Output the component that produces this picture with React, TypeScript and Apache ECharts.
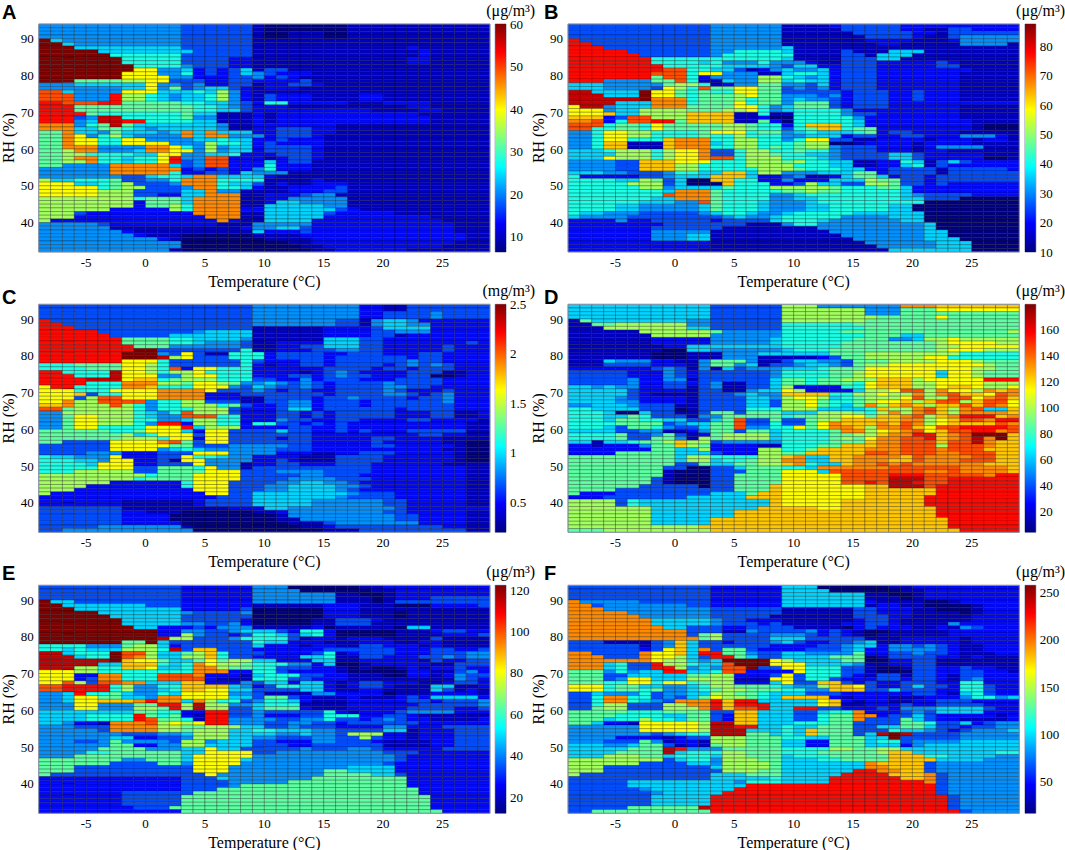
import React, { useEffect, useRef } from 'react';
import * as echarts from 'echarts';

// Each row is one 1 % RH band, from 94 % down to 32 %, one hex digit per 1 degree column
// from -9 to 29. The digit is the reading on that panel's colour bar (see levelScale).
// "*n" repeats the row n times.
const rowsA = [
  '44444444444433333310000000111111111111*2',
  '44444444444433333310011100111111111111*2',
  'f5444444444433333311111111111111111111',
  'ff544444444433333311111111111111111111',
  'fff55555555533333311111111111112111111',
  'fffff555555553333311111111111111211111',
  'ffffff66666633333311111111111111211111',
  'fffffff666663333221111111111111221111*2',
  'ffffffff666643332211111111111111111111',
  'ffffffff994452323513311111111111111111',
  'fffffff9994462323543222111111111111111',
  'fffffff9999442223342321111111111111111',
  'fff77778899333223322223111111111111111',
  '44455555594434223312233211111111111111',
  '44444445594734553212221111111111111111',
  'cc544449995556584211111111111111111111',
  'ccc444d8865455684213222111122111111111*2',
  'ddcccdd7777766554326622222111222211111',
  'ddd77777777776654322211111111112211111',
  'ddd77777777776655322222222221111221111',
  'dddd76666666755111212222222222221 11111'.replace(' ', ''),
  'ddd34ee6666674411121222222222222211111',
  'ddd45eedd66665511121222222222222211111',
  'bbb467e7555555541122222221111111111111',
  'bbb55776545555541122333221111111111111',
  '77b554755545b5b55522333221111111111111',
  '77b946854444b5bb4442333211111111111111',
  '77b99669944445565522322211111111111111',
  '77b99669999444866523222211111111111111',
  '77bbb4444bb964845523333211111111111111',
  '778bb4445bb994845523333211111111111111',
  '77886666559944556222333211111111111111',
  '778bb665669d44cc2221233211111111111111',
  '7788b665669d34cc2225233111111111111111',
  '774444bbbbb534cc2226222111111111111111',
  '444444bbbbbb23232246222111111111111111',
  '444444bbbbb622332544411111111111111111',
  '4444444335665bb55552111111111111111111',
  '855666733446bbb66661111211111111111111',
  '999556783334bbb65531211222111111111111',
  '9999967883334bb66521122223111111111111',
  '99999888333355b44111122233111111111111',
  '99999888332255bbb112223441111111111111',
  '8888888867775bbbb112244444111111111111',
  '8888888827775bbbb112554444111111111111',
  '8888888827786bbbb115555544111111111111',
  '8888882222286bbbb225555553211111111111',
  '8883222222222bbbb115555532222211111111',
  '88822222222222bbb115555522222222211111',
  '822222222222222b2115555222222222221111',
  '44444322222222211144444222222222222111',
  '44444411111111111244553222222222222111',
  '44444442111111111152223222222222222111',
  '44444444211100000011112222222222222211',
  '44444444442100000001111222222222222211',
  '44444444444400000000011222222222222111',
  '44444444444400000000001122222222221111',
  '44444444444100000000000112222221111111',
];

const rowsB = [
  '33333333333344444411112333332222222222',
  '33333333333344444411111333332211332222',
  '33333333333344444411111133333221333333',
  '33333333333344444411111113333211344444',
  'd3333333333344444411111112222111244444',
  'dd333333333344444411111111221111144441',
  'ddd33333333344444451111111111111111111',
  'ddddd333333344666651111311155511111111',
  'dddddd33333346666661111331555111111111',
  'ddddddd666666666665 1111333551111111111'.replace(' ', ''),
  'ddddddd6666564446444211333222223211111',
  'dddddddd666665555435522333222223311111',
  'ddddddddcc6655312454452333222222221111',
  'dddddddccc6994441156652333222222211111',
  'ddddddd7cc6244448865452333222222211111',
  'ddd444477c6115448856552333222222211111',
  '55544444788612447744352333222222211111',
  '55544443986c77997734342333222222211111',
  'ee5555f9976766997733333233322322211111',
  'eee555f9976777897744434233322322211111',
  'eeeeeefbbb6777867745443233322322211111',
  'eeee555bbb6777967747773233322222222222',
  '9ee4555bbb7777996457773233322222211111',
  '99945588887778896456666422222222211111',
  '999a558888aaaa116116666433222222211111',
  'aaa23cc888aaaa112006666642222222211111',
  'bbc26ccdd7aaaa117206666652222222221111',
  'ccc67769777778876626aaa652222222221000',
  'cc6677697777788766367aa677222222221000',
  '44699886666799967745655567233222211111',
  '44699886666766866644555233223322244421',
  '44699666abbb66886646993311222212221221',
  '446aa111abbb56886667880012222122221111',
  '446aa111abbb66886767884333222124444111',
  '55568886899b33688667664333222122111111',
  '55558886899b33688766554333355322222111',
  '55598886899bcc688866654333355322222001',
  '444433aaa99966688878665511226513532222',
  '444433aaa88666688886665511225613222222',
  '444433aaa88666668887666552233331333332',
  '5554433346655aa58844455577233331333333',
  '622222334555aaa52234112577523323333333',
  '666655873500aa662242225558773323333333',
  '6666688835000a666223855338873323222222',
  '66666688455557666888887666775222222222',
  '666666665bbb76666677877666665222222222',
  '66666666cbbb76666445666666665433332222',
  '666666655bbb76666445566666665533300000',
  '66666655544c76665444566666666600000000',
  '66665544444576665444556666655000000000*2',
  '65544433333456654456666655555500000000',
  '54444333333334544566666444455500000000',
  '22224223333323333566654444445500000000',
  '22222222333333311146644444444450000000',
  '22222223333331111111144444444450000000',
  '22222224444411111111114444444455000000',
  '22222224445511111111111444444455000000',
  '22222224445511111111111144444455500000',
  '22222222222211111111111114444445550000',
  '22222222222211111111111111444445550000',
  '22222222222111111111111111155555550000',
];

const rowsC = [
  '33333333333333333344444444422113333333*2',
  '33333333333333333344444444422333343333*2',
  'd3333333333333333344444443314554222222',
  'dd333333333333333344444443314554422222',
  'ddd33333333333333311111122223555522222',
  'ddddd333333334555511111122223344422222',
  'dddddd33333555555511111122223312222222',
  'ddddddd7777665555411111155533222222222',
  'ddddddd7777665444311222255533222222232',
  'dddddddd777444444311223355533222223222',
  'ddddddddff3333333611222334433222223222',
  'dddddddfff4393116662333322333222332222',
  'dddddddfffe8933366623333233333 32332222'.replace(' ', ''),
  'ddddddd9996333333632223323333334332222',
  '66677779986333333621223323333234343222',
  '66667779986c29966622222233332332333222',
  'dd6666e9986889666622221234322223331122',
  'ddd666e9994489966622233234332223300122',
  'ddddeee9aa6788866633224233322233332222',
  'dddd666bbb8879987445434323333433332222',
  '9dd6666bba6669994354334323333443322222',
  '9996669999bbbb933343233223333432223222',
  '999a366999bbbb222333333323333443234222',
  '99938cc999bbbb222113333233433332334222',
  '99b88cccc46688333113344233323333334222',
  'aab888c8646688867322344233323333333222',
  'cc788888646668883222355233333323333222',
  '448888886546c8883222332323333322233112',
  '447998886544ccc66222332323333322233112',
  '44799888664458866222433223322223322221',
  '4479988864dd28866266332323222222222211',
  '447996666999d5888222233223222222222211',
  '77777766799952993333533223232223333311',
  '77777778569993993333333222222222332211',
  '77777778886992993333233222223322221111',
  '7733339999bc73993333333222223222221100',
  '33333399999773334444433222223322222100',
  '33333399994565444444333222222222221100',
  '33334442223339994444222112233322222100',
  '65544492223396654422221113333222222100',
  '66655499223199444422321113333222222100',
  '66665999223339444122332223332222221111',
  '66666999337776944133333333332222222211',
  '66688888337777999333444433332222222211',
  '88888888867779999333334433322222222211',
  '88888888677779999333344443332222222211',
  '88888822222269993333445544322222222211',
  '88882222222269993334455554432222222211',
  '88822222222229993334455554322222222211',
  '82222222222222993355555555433322222211',
  '22222222222222233355555554333322222211',
  '22222221111112333355555444444332222211*2',
  '33333331111111112225544444444432222222',
  '33333332211100000011244444444332222211',
  '33333332222000000000144444444433222211',
  '33333332222000000000114444444433222211',
  '33333332222200000000011134444444222211',
  '33333444444410000000001123333333332211',
  '33444444444440000000000011133333333311',
];

const rowsD = [
  '55555555555533333388844444 44bbbaaaaaaa'.replace(' ', ''),
  '55555555555533333388888884447779999999',
  '55555555555533333388888884447777777777',
  '55555555555533333388888888777779777777',
  '17555555554433333388888887777777777777',
  '11778888884433333366666677777777777777',
  '11188888885533333366666667777777777777',
  '11111188888874444466666777777777777778',
  '11111118888844444466666667775577777777',
  '11111112222244444566666677744588988888',
  '11111112222244444566666777777778999988',
  '11111111225555555566666777777778899999',
  '11111111005544444456667777777778999888',
  '11111110001114445555557778888888866666',
  '11111110001114441111123778888899666666',
  '11154442211477741135544377788889998777',
  '11133332221477451334554378899999999877',
  '22222223431415344455567779999999998877',
  '33333222432333333466667789999995998777*2',
  '33333422441333333577677888aaa899999ddd',
  '33333422332341133577677769aaa889999888',
  '55454422331341133582222669aaa889aa9889',
  '5555532222133114559822225889cc8b998bab',
  '555553211113334544aaaa6688988b8bcaa9cb',
  '55554322221333355489985678889c88cc9bca',
  '5555442222133335538897667899a8acc8acc9',
  '4455543331133335538897657b8aba8aacacb9',
  '66555533301333366688855556a88bca8bc55a',
  '666500533113773777555888768b8bca8bbbba',
  '66655763331447777767788997aabc8abdddab',
  '66657766553357c33733788aaaaabb89accbdd',
  '66667777345577c3363379baaabacb89aaaacb',
  '66653776433577c4466979bba8bbca9ccddddc',
  '55553344112477377566667bb89abc9accddbc',
  '66667334731278888566667788abbddabcfffa',
  '66667337741878888566667879bbccdabcebfa',
  '551556778a883444446666777abbcccaccebaa',
  '221222477a8722221166677aaabbccc8cccbaa',
  '222222277558222288667aaaabbbcccbcccaaa',
  '22227777755532228877aaaaaccbcccbbcccaa',
  '777777777588666688ab55aabbbbacbbbbccaa',
  '777777777588566788bb55aabbbaacbbbcccaa',
  '777777777337557788ab655abbcbcbbbbbbaaa',
  '777777773300335777665bbbbbbccccccbbbba',
  '7777777710003337779995ccccccccbbcbbbba',
  '77777777100033777799999ccccdddcccccbdd',
  '77777773100033777799999cccceeeccdddddd',
  '77777773100033777799999ccdceedccdddddd',
  '77777733333033777a9999999aaeeecddddddd',
  '77773333333333777a9999999aaaaaaddddddd',
  '7222333333335557aa9999999aaaaaaddddddd',
  '222333333355555aaa9999999aaaaadddddddd',
  '88883655555555555a99999aaaaaaadddddddd*2',
  '8888888555555555aaaaa99aaaaaaaaddddddd',
  '88888885555555aaaaaaaaaaaaaaaaaddddddd*2',
  '888888855555aaaaaaaaaaaaaaaaaaaadddddd*2',
  '88888888888aaaaaaaaaaaaaaaaaaaaadddddd',
  '777888888888aaaaaaaaaaaaaaaaaaaaaddddd',
];

const rowsE = [
  '33333333333322222244400000011222222222',
  '33333333333322222244440000001122222222',
  '33333333333322222244444441100122222222',
  '33333333333322222244444441110122233333',
  'f5533333333322222244444441110133333333',
  'ff555555533322222211111122211100022223',
  'fff55555555522222300000022211111111111',
  'fffff555555543333400000022211101111111',
  'ffffff55555533333300000022211101111111',
  'fffffff5555533333200000113332111111111',
  'fffffff5555544334200000113331111111111',
  'ffffffff552223244411111201111105511111',
  'ffffffffff2244334555326620000011123322',
  'ffffffffff2284332366535620000011112223',
  'ffffffffffe883334666631221222111131111',
  'fffffff77f5333333365522211122211221111',
  '66664447885233333352221221133222121111',
  '66565558886e3aa33322222233333322233223',
  'ee5666fcc85578a63332222361233322233344',
  'eee566fcb85588a63322225561133222334344',
  'eeeeeefa997557978855222551122222132233',
  'eeeee55aaa656b988766644250012222211333',
  'eee8866aa9556bb87766333221010012122322',
  '9998866666666bbb2266322221000002211342',
  '99922bb666cccb222156663322111002212433',
  '99923bb666cccc211166633222111111111432',
  '99c83ccbb555aa222435525521233222112332',
  'ccdddd684466aaaa5423665521233211155112',
  'ccdddd684456aa995533335521122111153121',
  '445d6675446599994431111442222011122221',
  '4459977554bb99995537732111211123255552',
  '44599aaabdbb5b866346652111222223323334',
  '4449944477dd8e884456661111222222333334',
  '44499444887d8e883357772111222223333223',
  '55555555776622dd3343333362122234444222',
  '55556666d76721dd3342223366622332111111',
  '55556666dc7761dd4444334463323432211112',
  '554221bbbc8989dd4443344332333333222222',
  '444333bbbb8877888553343332222442223333',
  '444443bbbb8878885566555443333551222333',
  '44444443334458885555445443888221222333',
  '44444455223348885544333443383221222333',
  '44433474444388455533222443332111122333',
  '44444477224488555533322333333111122333',
  '44444777744455955333334333443222223333',
  '44446677777755999933444444444333222222',
  '44477777777759999944444444444432222222',
  '77777774477759999544444444444432222222',
  '77777733337749999444444444444322222222',
  '77733333333339994444444444555522222222',
  '77733333333339994444444477555522222222',
  '73333333333333944444444477775532222222',
  '22222222222233354444444777777772222222',
  '22222222222233334444477777777772222222',
  '22222222222233334777777777777772222222',
  '22222222222233377777777777777777222222',
  '22222223333337777777777777777777222222',
  '22222223333377777777777777777777722222*3',
  '22222222333777777777777777777777722222',
  '22222222222277777777777777777777772222',
];

const rowsF = [
  '33333333333322222255500000011222222222',
  '33333333333322222255550000001122222222',
  '33333333333322222255555551100122222222',
  '33333333333322222255555551110122222222',
  'b4444433333322222255555552111100122222',
  'bb344444443322222255555551221100001222',
  'bbb44444444433333311111133222110001222',
  'bbbbb444444433333311111133222111101222',
  'bbbbbb44444433333111111133322111112222',
  'bbbbbbb5555543322211111123321111112222',
  'bbbbbbb5555543332311111223321111422222',
  'bbbbbbbb553332233331111023222112143222',
  'bbbbbbbbbb3331143333423210011111222222',
  'bbbbbbbbbb3783333444323210111111222222',
  'bbbbbbbbbbb783333555333331112222212222',
  '333111134a5332333453223345112222212222',
  '333333134a5333333222233455244343211222',
  '333333239a5b37732222333452244443211222',
  'bb3333b99a5dd7743355444472233433211122',
  'bbb333b99853dd753355557770133332212111',
  'bbbbbbb988545ffff985555770022331111111',
  'bbb5633d88655cfff999555541122331111111',
  'bbb5633dd8454ccf3399666331001332232211',
  '77746455dd556cc22229666331000332233221',
  '77733555557788222393666321331332133222',
  '77734995558888111993663222332332134222',
  '777669969967882225933aa323223332266222',
  '9996775544568877765448aa93223533266322',
  '9996776744567887776644aaa3353332266322',
  '33544463445588776555333222222332156322',
  '336bb6634357988765aaaa2122211122246645',
  '336bb6543bbbdadd555559a212211223332222',
  '3368833388bbdaddd55559a112223223333222',
  '33788333888bdaccd55dd33222324445555322',
  '77777666777733aa55533566b2223435555222',
  '77776666557732aa55533677bb233532222212',
  '77756686657732aa55533677b3337532211112',
  '775221999998eeaa5556667733337763352344',
  '444444999998eedd5565577733557753323344',
  '444444999998eee55565a77733365543234445',
  '444444434566eee77565a77735efe333344444',
  '444422221233888777665577755f3333344444',
  '44433374122188877755227775663444455555',
  '55544577312178877755227775552455555555',
  '55555777ed4447777766668877885555555555',
  '55557777e566688777666777778aa555555566',
  '555888775666588777566677777aaa66555544',
  '888888883566488877555667777aaaa5555444',
  '8888883333554888875555555baaaa34444444',
  '8883333333335888875555555bbaaa34444444',
  '888333333333388877555555ddbbaa34444444',
  '83333333333355577755555ddddaaab3444444',
  '3333333333335555565555ddddddaab3444444',
  '3333355555555546665555ddddddddb3444444',
  '333335555555555dddddddddddddddd3444444',
  '33333345555555ddddddddddddddddd3444444',
  '3333333455555dddddddddddddddddd3444444',
  '333333355555dddddddddddddddddddd344444*3',
  '33333777777edddddddddddddddddddd344444',
  '337777777777ddddddddddddddddddddd34444',
];

// share of the colour bar's height for each digit
const levelScale = [0, 0.067, 0.133, 0.2, 0.267, 0.333, 0.4, 0.467, 0.533, 0.625, 0.68, 0.74, 0.8, 0.867, 0.933, 1];

const units = ['(μg/m³)', '(μg/m³)', '(mg/m³)', '(μg/m³)', '(μg/m³)', '(μg/m³)'];
const letters = ['A', 'B', 'C', 'D', 'E', 'F'];
const barMin = [6.4, 10, 0.2, 3.8, 12.3, 16.6];
const barMax = [60, 87.7, 2.5, 179, 122.3, 257.8];
const barTicks = [
  [10, 20, 30, 40, 50, 60],
  [10, 20, 30, 40, 50, 60, 70, 80],
  [0.5, 1, 1.5, 2, 2.5],
  [20, 40, 60, 80, 100, 120, 140, 160],
  [20, 40, 60, 80, 100, 120],
  [50, 100, 150, 200, 250],
];
const tempTicks = [-5, 0, 5, 10, 15, 20, 25];
const rhTicks = [40, 50, 60, 70, 80, 90];
const allRows = [rowsA, rowsB, rowsC, rowsD, rowsE, rowsF];

const TEMP_MIN = -9;
const TEMP_MAX = 29;
const RH_MIN = 32;
const RH_MAX = 94;
const COLS = TEMP_MAX - TEMP_MIN;

const jet = ['#000080', '#0000ff', '#0080ff', '#00ffff', '#80ff80', '#ffff00', '#ff8000', '#ff0000', '#800000'];
const serif = '"Liberation Serif", "Times New Roman", serif';

const columnsLeft = [38.7, 568];
const columnsRight = [490, 1019.3];
const barLeft = [495.2, 1025];
const barWidth = 10.8;
const rowTop = [24, 304.3, 585.3];
const rowHeight = 228;
const letterTop = [2, 287, 563];

function cells(rows: string[], min: number, max: number) {
  const out: number[][] = [];
  let rh = RH_MAX - 1;
  rows.forEach((entry) => {
    const [row, times] = entry.split('*');
    for (let n = 0; n < Number(times || 1); n++) {
      for (let i = 0; i < COLS; i++) {
        const level = parseInt(row[Math.min(i, row.length - 1)], 16);
        out.push([TEMP_MIN + i, rh, min + (max - min) * levelScale[level]]);
      }
      rh--;
    }
  });
  return out;
}

const drawCell = (_: any, api: any) => {
  const a = api.coord([api.value(0), api.value(1) + 1]);
  const b = api.coord([api.value(0) + 1, api.value(1)]);
  return {
    type: 'rect',
    shape: { x: a[0], y: a[1], width: b[0] - a[0], height: b[1] - a[1] },
    style: { fill: api.visual('color'), stroke: 'rgba(0,0,0,0.55)', lineWidth: 0.5 },
  };
};

const drawBar = (_: any, api: any) => {
  const a = api.coord([0, api.value(1)]);
  const b = api.coord([1, api.value(0)]);
  return {
    type: 'rect',
    shape: { x: a[0], y: a[1], width: b[0] - a[0], height: b[1] - a[1] },
    style: {
      fill: new echarts.graphic.LinearGradient(
        0, 1, 0, 0,
        jet.map((color, i) => ({ offset: i / (jet.length - 1), color })),
      ),
    },
  };
};

function buildOption() {
  const grid: any[] = [];
  const xAxis: any[] = [];
  const yAxis: any[] = [];
  const series: any[] = [];
  const visualMap: any[] = [];
  const graphic: any[] = [];
  const tickText = { color: '#000', fontFamily: serif, fontSize: 13 };
  const nameText = { color: '#000', fontFamily: serif, fontSize: 16 };
  const frame = {
    show: true,
    borderColor: '#8a94ad',
    borderWidth: 1,
    backgroundColor: 'transparent',
    outerBoundsMode: 'none',
  };

  allRows.forEach((rows, p) => {
    const col = p % 2;
    const line = Math.floor(p / 2);
    const top = rowTop[line];
    const plot = grid.length;
    grid.push({
      ...frame,
      left: columnsLeft[col],
      top,
      width: columnsRight[col] - columnsLeft[col],
      height: rowHeight,
      z: 5,
    });
    grid.push({ ...frame, left: barLeft[col], top, width: barWidth, height: rowHeight });

    xAxis.push({
      type: 'value',
      gridIndex: plot,
      min: TEMP_MIN,
      max: TEMP_MAX,
      name: 'Temperature (°C)',
      nameLocation: 'middle',
      nameGap: 21,
      nameTextStyle: nameText,
      axisLine: { show: false },
      axisTick: { show: false },
      splitLine: { show: false },
      axisLabel: { ...tickText, margin: 4, customValues: tempTicks },
    });
    yAxis.push({
      type: 'value',
      gridIndex: plot,
      min: RH_MIN,
      max: RH_MAX,
      name: 'RH (%)',
      nameLocation: 'middle',
      nameGap: 20,
      nameTextStyle: nameText,
      axisLine: { show: false },
      axisTick: { show: false },
      splitLine: { show: false },
      axisLabel: { ...tickText, margin: 5, customValues: rhTicks },
    });
    xAxis.push({ type: 'value', gridIndex: plot + 1, min: 0, max: 1, show: false });
    yAxis.push({
      type: 'value',
      gridIndex: plot + 1,
      position: 'right',
      min: barMin[p],
      max: barMax[p],
      axisLine: { show: false },
      axisTick: { show: false },
      splitLine: { show: false },
      axisLabel: { ...tickText, margin: 4, customValues: barTicks[p] },
    });

    visualMap.push({
      show: false,
      seriesIndex: series.length,
      dimension: 2,
      min: barMin[p],
      max: barMax[p],
      inRange: { color: jet },
    });
    series.push({
      type: 'custom',
      xAxisIndex: plot,
      yAxisIndex: plot,
      data: cells(rows, barMin[p], barMax[p]),
      encode: { x: 0, y: 1 },
      renderItem: drawCell,
      silent: true,
      progressive: 0,
    });
    series.push({
      type: 'custom',
      xAxisIndex: plot + 1,
      yAxisIndex: plot + 1,
      data: [[barMin[p], barMax[p]]],
      encode: { y: [0, 1] },
      renderItem: drawBar,
      silent: true,
    });

    graphic.push({
      type: 'text',
      x: col === 0 ? 2 : 544,
      y: letterTop[line],
      style: { text: letters[p], font: 'bold 20px "Liberation Sans", Arial, sans-serif', fill: '#000' },
    });
    graphic.push({
      type: 'text',
      x: barLeft[col] + 40,
      y: top - 22,
      style: { text: units[p], font: `16px ${serif}`, fill: '#000', textAlign: 'right' },
    });
  });

  return { animation: false, backgroundColor: '#fff', grid, xAxis, yAxis, visualMap, series, graphic };
}

export default function App() {
  const chartRef = useRef<HTMLDivElement>(null);

  useEffect(() => {
    if (!chartRef.current) return;
    const chart = echarts.init(chartRef.current, undefined, { renderer: 'svg' });
    chart.setOption(buildOption() as any);
    return () => {
      chart.dispose();
    };
  }, []);

  return <div ref={chartRef} style={{ position: 'absolute', left: 0, top: 0, width: 1065, height: 850 }} />;
}
